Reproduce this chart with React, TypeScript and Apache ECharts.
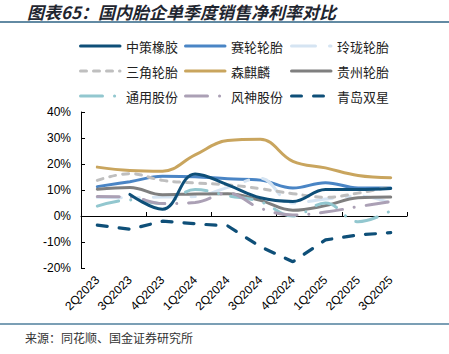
import React, { useEffect, useRef } from 'react';
import * as echarts from 'echarts';

const categories = ['2Q2023', '3Q2023', '4Q2023', '1Q2024', '2Q2024', '3Q2024', '4Q2024', '1Q2025', '2Q2025', '3Q2025'];
const yTicks = [-20, -10, 0, 10, 20, 30, 40];

const zhongce = [null, 8.3, 2.6, 16.2, 12, 7, 5.6, 10.2, 10.2, 10.6];
const sailun = [11.3, 13.2, 15.3, 15.1, 14.3, 13.8, 10.8, 12.8, 10.8, 10.8];
const linglong = [7.2, 7.0, 7.3, 7.5, 11, 14.5, 5, 6.5, 7.7, 5];
const sanjiao = [13.7, 16.3, 13.7, 12.7, 12, 10.5, 8.6, 7.2, 8.8, 11.3];
const senqilin = [18.8, 17.5, 17.2, 23.5, 29, 29.5, 21, 18.5, 15.6, 14.7];
const guizhou = [10.3, 11, 8.2, 8.5, 8.6, 6, 2.2, 4, 7, 7.3];
const tongyong = [3.8, 6.2, 4.8, 10.2, 7.8, 5.5, 0, 5, -2.2, 2];
const fengshen = [7.5, 7.3, 4.8, 5.2, 8.8, 3, 0.4, 1.5, 3.6, 5.5];
const qingdao = [-3.5, -5.1, -2, -3, -3.8, -11.8, -17.6, -9.2, -7.3, -6.4];

const seriesNames = ['中策橡胶', '赛轮轮胎', '玲珑轮胎', '三角轮胎', '森麒麟', '贵州轮胎', '通用股份', '风神股份', '青岛双星'];
const seriesData = [zhongce, sailun, linglong, sanjiao, senqilin, guizhou, tongyong, fengshen, qingdao];
const seriesColors = ['#0E4F78', '#4A85C5', '#D5E4F2', '#BFBFBF', '#C9A55E', '#7F7F7F', '#92C7CF', '#ABA0B5', '#0E4F78'];
const seriesDash: any[] = [null, null, [24, 14, 4, 14], [6, 7], null, null, [22, 12, 0.1, 12], [22, 12, 0.1, 12], [10, 12]];
const seriesWidth = [3, 3, 3, 3, 3, 3, 3, 3, 3.2];
const seriesSmooth = [true, true, true, true, true, true, true, true, false];

const legendCols = [79, 184, 290];
const legendRows = [46, 71, 96];

const FONT = 'Liberation Sans, Noto Sans CJK SC, sans-serif';
const CJK = 'Noto Sans CJK SC, sans-serif';

export default function App() {
  const ref = useRef<HTMLDivElement>(null);
  useEffect(() => {
    const chart = echarts.init(ref.current!, null, { renderer: 'svg' });
    const legendGraphics: any[] = [];
    seriesNames.forEach((n, i) => {
      const x = legendCols[i % 3];
      const y = legendRows[Math.floor(i / 3)];
      legendGraphics.push({
        type: 'line',
        shape: { x1: x + 1.5, y1: y, x2: x + 41, y2: y },
        style: {
          stroke: seriesColors[i],
          lineWidth: 3,
          lineCap: 'round',
          lineDash: seriesDash[i] || undefined,
        },
      });
      legendGraphics.push({
        type: 'text',
        x: x + 47,
        y: y,
        style: {
          text: n,
          fontSize: 13,
          fill: '#222',
          fontFamily: CJK,
          verticalAlign: 'middle',
          align: 'left',
        },
      });
    });
    const option: any = {
      animation: false,
      backgroundColor: '#fff',
      textStyle: { fontFamily: FONT },
      grid: { left: 81, right: 42, top: 112, bottom: 86, containLabel: false },
      xAxis: [
        {
          type: 'category',
          data: categories,
          position: 'bottom',
          boundaryGap: true,
          axisLine: { show: true, onZero: true, lineStyle: { color: '#000', width: 1 } },
          axisTick: { show: true, inside: true, length: 4, lineStyle: { color: '#000' } },
          axisLabel: { show: false },
          splitLine: { show: false },
        },
        {
          type: 'category',
          data: categories,
          position: 'bottom',
          boundaryGap: true,
          axisLine: { show: false, onZero: false },
          axisTick: { show: false },
          axisLabel: { show: true, rotate: 45, fontSize: 12, color: '#000', margin: 10, fontFamily: FONT },
          splitLine: { show: false },
        },
      ],
      yAxis: {
        type: 'value',
        min: yTicks[0],
        max: yTicks[yTicks.length - 1],
        interval: 10,
        axisLine: { show: true, lineStyle: { color: '#000', width: 1 } },
        axisTick: { show: true, inside: true, length: 4, lineStyle: { color: '#000' } },
        axisLabel: { formatter: '{value}%', fontSize: 12, color: '#000', margin: 10, fontFamily: FONT },
        splitLine: { show: false },
      },
      series: seriesNames.map((n, i) => ({
        name: n,
        type: 'line',
        xAxisIndex: 0,
        data: seriesData[i],
        smooth: seriesSmooth[i] ? 0.4 : false,
        symbol: 'none',
        connectNulls: false,
        z: i === 0 ? 5 : 2,
        lineStyle: {
          color: seriesColors[i],
          width: seriesWidth[i],
          type: seriesDash[i] || 'solid',
          cap: 'round',
        },
        itemStyle: { color: seriesColors[i] },
      })),
      graphic: [
        {
          type: 'text',
          x: 27,
          y: 11,
          style: {
            text: '图表65：国内胎企单季度销售净利率对比',
            fontSize: 17,
            fontWeight: 'bold',
            fontStyle: 'italic',
            fill: '#1f2630',
            fontFamily: CJK,
            verticalAlign: 'middle',
          },
        },
        { type: 'line', shape: { x1: 0, y1: 22, x2: 449, y2: 22 }, style: { stroke: '#2E6384', lineWidth: 1.5 } },
        { type: 'line', shape: { x1: 0, y1: 324, x2: 449, y2: 324 }, style: { stroke: '#4F7F9C', lineWidth: 1.5 } },
        {
          type: 'text',
          x: 25,
          y: 337,
          style: { text: '来源：同花顺、国金证券研究所', fontSize: 12, fill: '#333', fontFamily: CJK, verticalAlign: 'middle' },
        },
        ...legendGraphics,
      ],
    };
    chart.setOption(option);
    return () => chart.dispose();
  }, []);
  return <div ref={ref} style={{ width: 449, height: 354, position: 'absolute', left: 0, top: 0 }} />;
}
